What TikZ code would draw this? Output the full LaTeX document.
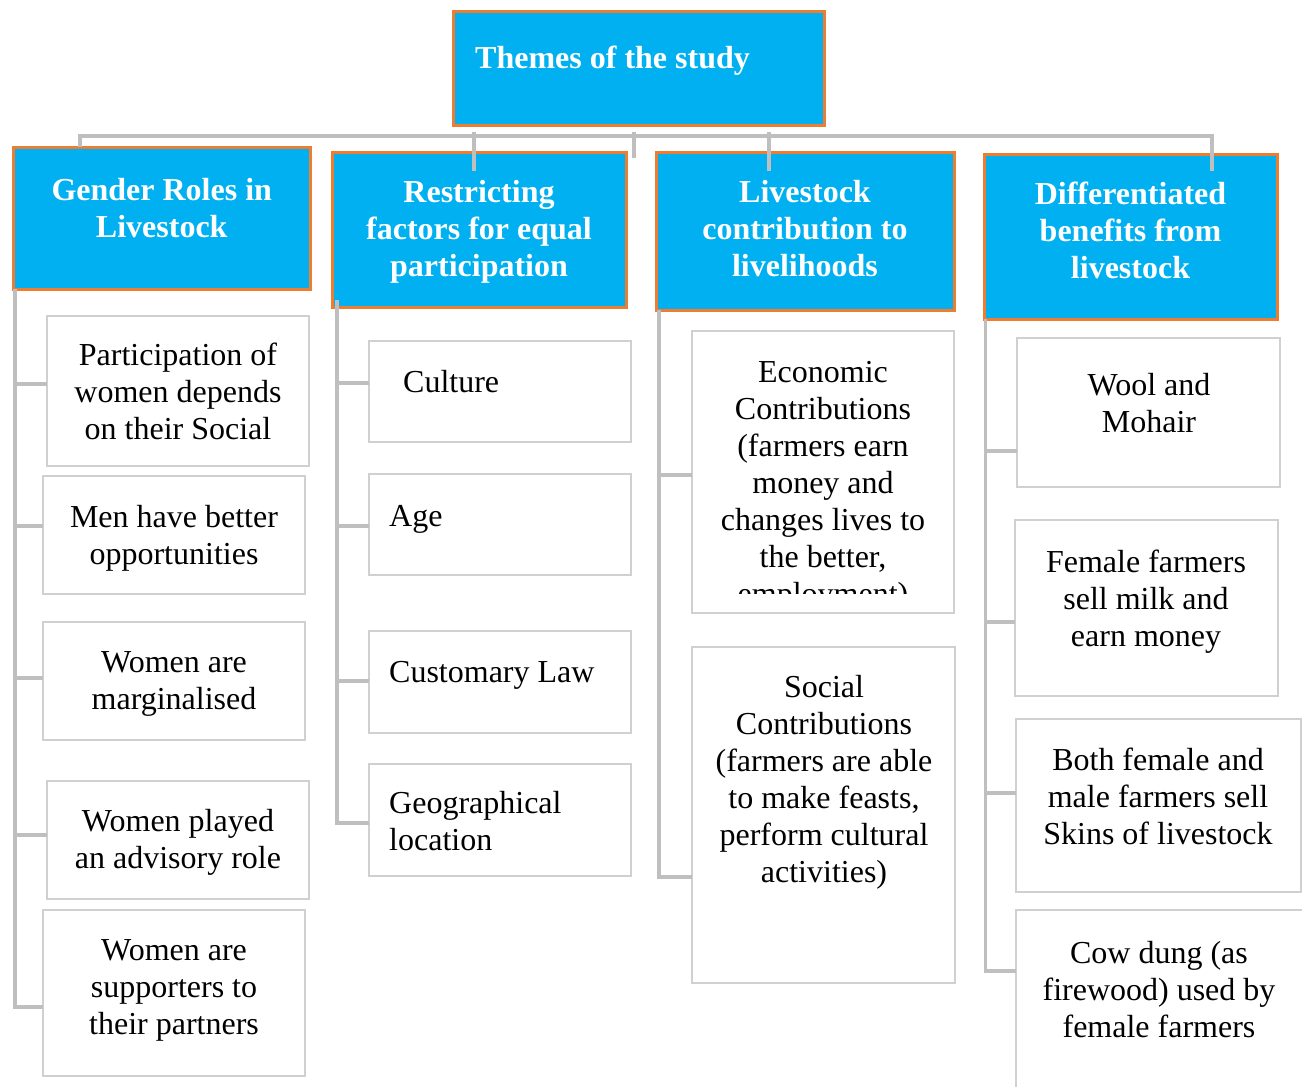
\documentclass[tikz,border=0pt]{standalone}
\usepackage{fontspec}
\setmainfont{Liberation Serif}
\definecolor{themefill}{HTML}{00B0F0}
\definecolor{themeedge}{HTML}{ED7D31}
\definecolor{connline}{HTML}{BFBFBF}
\definecolor{itemedge}{HTML}{D0D0D0}
\begin{document}
\begin{tikzpicture}[x=1pt,y=-1pt,
  headbox/.style={draw=themeedge,line width=3pt,fill=themefill,inner sep=0pt,outer sep=0pt},
  itembox/.style={draw=itemedge,line width=2pt,fill=white,inner sep=0pt,outer sep=0pt},
  headtxt/.style={font=\fontsize{32}{37}\selectfont\bfseries,text=white,align=center,inner sep=0pt,anchor=north},
  itemtxt/.style={font=\fontsize{32}{37}\selectfont,align=center,inner sep=0pt,anchor=north},
  itemtxtl/.style={font=\fontsize{32}{37}\selectfont,align=left,inner sep=0pt,anchor=north west},
  conn/.style={draw=connline,line width=3.5pt}]
\useasboundingbox (0,0) rectangle (1302,1087);
\fill[white] (0,0) rectangle (1302,1087);

% root theme
\node[headbox,minimum width=371pt,minimum height=114pt] (theme) at (638.5,68) {};
\node[font=\fontsize{32}{37}\selectfont\bfseries,text=white,inner sep=0pt,anchor=base west] (themeT) at (475,68) {Themes of the study};

% bar joining the four themes
\coordinate (barL) at (80,136);
\coordinate (barR) at (1212,136);

% the four themes
\node[headbox,minimum width=296.5pt,minimum height=142pt] (gen) at (161.75,218) {};
\node[headbox,minimum width=294pt,minimum height=155pt] (res) at (479,229.5) {};
\node[headbox,minimum width=298pt,minimum height=158pt] (liv) at (805,231) {};
\node[headbox,minimum width=293pt,minimum height=165pt] (dif) at (1130.5,236.5) {};

\draw[conn] (gen.north -| barL) -- (barL) -- (barR) -- ([yshift=-17pt]dif.north -| barR);
\coordinate (stub) at (634,158);
\draw[conn] (474,132) -- ([yshift=-19pt]res.north -| 474,0);
\draw[conn] (stub |- 0,132) -- (stub);
\draw[conn] (769,132) -- ([yshift=-19pt]liv.north -| 769,0);

\node[headtxt] (genT) at (161.75,174) {\strut Gender Roles in\\Livestock};
\node[headtxt] (resT) at (479,176) {\strut Restricting\\factors for equal\\participation};
\node[headtxt] (livT) at (805,176) {\strut Livestock\\contribution to\\livelihoods};
\node[headtxt] (difT) at (1130.5,178) {\strut Differentiated\\benefits from\\livestock};

% gender roles items
\node[itembox,minimum width=262pt,minimum height=150pt] (p1) at (178,391) {};
\node[itembox,minimum width=262pt,minimum height=118pt] (p2) at (174,535) {};
\node[itembox,minimum width=262pt,minimum height=118pt] (p3) at (174,681) {};
\node[itembox,minimum width=262pt,minimum height=118pt] (p4) at (178,840) {};
\node[itembox,minimum width=262pt,minimum height=166pt] (p5) at (174,993) {};
\coordinate (genS) at ([xshift=1.5pt]gen.south west);
\foreach \n/\yy in {p1/384,p2/526,p3/678,p4/835,p5/1007}
  \draw[conn] (genS) |- (\n.west |- 0,\yy);
\node[itemtxt] (p1T) at (178,339) {\strut Participation of\\women depends\\on their Social};
\node[itemtxt] (p2T) at (174,501) {\strut Men have better\\opportunities};
\node[itemtxt] (p3T) at (174,646) {\strut Women are\\marginalised};
\node[itemtxt] (p4T) at (178,805) {\strut Women played\\an advisory role};
\node[itemtxt] (p5T) at (174,934) {\strut Women are\\supporters to\\their partners};

% restricting factors items
\node[itembox,minimum width=262pt,minimum height=101pt] (r1) at (500,391.5) {};
\node[itembox,minimum width=262pt,minimum height=101pt] (r2) at (500,524.5) {};
\node[itembox,minimum width=262pt,minimum height=102pt] (r3) at (500,682) {};
\node[itembox,minimum width=262pt,minimum height=112pt] (r4) at (500,820) {};
\coordinate (resS) at ([xshift=5pt,yshift=7pt]res.south west);
\foreach \n/\yy in {r1/383,r2/526,r3/681,r4/823}
  \draw[conn] (resS) |- (\n.west |- 0,\yy);
\node[itemtxtl] (r1T) at (403,366) {\strut Culture};
\node[itemtxtl] (r2T) at (389,500) {\strut Age};
\node[itemtxtl] (r3T) at (389,656) {\strut Customary Law};
\node[itemtxtl] (r4T) at (389,787) {\strut Geographical\\location};

% livelihood contribution items
\node[itembox,minimum width=262pt,minimum height=282pt] (l1) at (823,472) {};
\node[itembox,minimum width=263pt,minimum height=336pt] (l2) at (823.5,815) {};
\coordinate (livS) at ([xshift=3pt]liv.south west);
\foreach \n/\yy in {l1/475,l2/877}
  \draw[conn] (livS) |- (\n.west |- 0,\yy);
\begin{scope}
  \clip (692,331) rectangle (954,593);
  \node[itemtxt] (l1T) at (823,356) {\strut Economic\\Contributions\\(farmers earn\\money and\\changes lives to\\the better,\\employment)};
\end{scope}
\node[itemtxt] (l2T) at (824,671) {\strut Social\\Contributions\\(farmers are able\\to make feasts,\\perform cultural\\activities)};

% differentiated benefits items
\node[itembox,minimum width=263pt,minimum height=149pt] (d1) at (1148.5,412.5) {};
\node[itembox,minimum width=263pt,minimum height=176pt] (d2) at (1146.5,608) {};
\node[itembox,minimum width=285pt,minimum height=173pt] (d3) at (1158.5,805.5) {};
\node[itembox,minimum width=296pt,minimum height=190pt] (d4) at (1164,1005) {};
\coordinate (difS) at ([xshift=1.5pt]dif.south west);
\foreach \n/\yy in {d1/451,d2/622,d3/793,d4/971}
  \draw[conn] (difS) |- (\n.west |- 0,\yy);
\node[itemtxt] (d1T) at (1149,369) {\strut Wool and\\Mohair};
\node[itemtxt] (d2T) at (1146,546) {\strut Female farmers\\sell milk and\\earn money};
\node[itemtxt] (d3T) at (1158,744) {\strut Both female and\\male farmers sell\\Skins of livestock};
\node[itemtxt] (d4T) at (1159,937) {\strut Cow dung (as\\firewood) used by\\female farmers};
\end{tikzpicture}
\end{document}
